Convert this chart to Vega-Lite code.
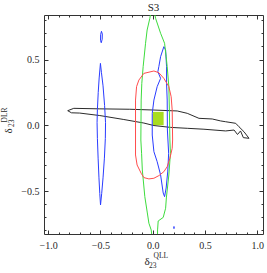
{
  "$schema": "https://vega.github.io/schema/vega-lite/v6.json",
  "autosize": "none",
  "padding": {"left": 44, "top": 15, "right": 4, "bottom": 39},
  "width": 219,
  "height": 219,
  "title": {"text": "S3", "font": "Liberation Serif, Times New Roman, serif", "fontSize": 11, "fontWeight": "normal", "color": "#222", "offset": 2},
  "config": {
    "view": {"stroke": "#333", "strokeWidth": 1},
    "axis": {
      "domain": false, "grid": false, "tickColor": "#333", "tickWidth": 1,
      "labelFont": "Liberation Serif, Times New Roman, serif", "labelFontSize": 10, "labelColor": "#2a2a2a",
      "labelFlush": false, "labelOverlap": false,
      "titleFont": "Liberation Serif, Times New Roman, serif", "titleFontWeight": "normal", "titleColor": "#2a2a2a"
    }
  },
  "datasets": {
    "box": [{"x1": 0.0, "x2": 0.105, "y1": 0.0, "y2": 0.102}],
    "contours": [
      {"c": "black", "s": "k", "i": 0, "x": -0.813, "y": 0.111},
      {"c": "black", "s": "k", "i": 1, "x": -0.755, "y": 0.129},
      {"c": "black", "s": "k", "i": 2, "x": -0.506, "y": 0.125},
      {"c": "black", "s": "k", "i": 3, "x": -0.219, "y": 0.122},
      {"c": "black", "s": "k", "i": 4, "x": 0.012, "y": 0.116},
      {"c": "black", "s": "k", "i": 5, "x": 0.235, "y": 0.109},
      {"c": "black", "s": "k", "i": 6, "x": 0.331, "y": 0.091},
      {"c": "black", "s": "k", "i": 7, "x": 0.443, "y": 0.053},
      {"c": "black", "s": "k", "i": 8, "x": 0.570, "y": 0.048},
      {"c": "black", "s": "k", "i": 9, "x": 0.651, "y": 0.033},
      {"c": "black", "s": "k", "i": 10, "x": 0.699, "y": 0.027},
      {"c": "black", "s": "k", "i": 11, "x": 0.795, "y": 0.015},
      {"c": "black", "s": "k", "i": 12, "x": 0.826, "y": -0.011},
      {"c": "black", "s": "k", "i": 13, "x": 0.874, "y": -0.049},
      {"c": "black", "s": "k", "i": 14, "x": 0.922, "y": -0.099},
      {"c": "black", "s": "k", "i": 15, "x": 0.868, "y": -0.094},
      {"c": "black", "s": "k", "i": 16, "x": 0.841, "y": -0.043},
      {"c": "black", "s": "k", "i": 17, "x": 0.812, "y": -0.070},
      {"c": "black", "s": "k", "i": 18, "x": 0.779, "y": -0.036},
      {"c": "black", "s": "k", "i": 19, "x": 0.699, "y": -0.043},
      {"c": "black", "s": "k", "i": 20, "x": 0.491, "y": -0.030},
      {"c": "black", "s": "k", "i": 21, "x": 0.331, "y": -0.023},
      {"c": "black", "s": "k", "i": 22, "x": 0.172, "y": -0.016},
      {"c": "black", "s": "k", "i": 23, "x": 0.012, "y": -0.002},
      {"c": "black", "s": "k", "i": 24, "x": -0.084, "y": 0.017},
      {"c": "black", "s": "k", "i": 25, "x": -0.276, "y": 0.044},
      {"c": "black", "s": "k", "i": 26, "x": -0.506, "y": 0.074},
      {"c": "black", "s": "k", "i": 27, "x": -0.698, "y": 0.093},
      {"c": "black", "s": "k", "i": 28, "x": -0.777, "y": 0.095},
      {"c": "black", "s": "k", "i": 29, "x": -0.813, "y": 0.111},

      {"c": "blue", "s": "b1", "i": 0, "x": -0.500, "y": 0.471},
      {"c": "blue", "s": "b1", "i": 1, "x": -0.490, "y": 0.400},
      {"c": "blue", "s": "b1", "i": 2, "x": -0.475, "y": 0.300},
      {"c": "blue", "s": "b1", "i": 3, "x": -0.460, "y": 0.150},
      {"c": "blue", "s": "b1", "i": 4, "x": -0.451, "y": 0.020},
      {"c": "blue", "s": "b1", "i": 5, "x": -0.453, "y": -0.100},
      {"c": "blue", "s": "b1", "i": 6, "x": -0.462, "y": -0.250},
      {"c": "blue", "s": "b1", "i": 7, "x": -0.475, "y": -0.400},
      {"c": "blue", "s": "b1", "i": 8, "x": -0.488, "y": -0.520},
      {"c": "blue", "s": "b1", "i": 9, "x": -0.499, "y": -0.606},
      {"c": "blue", "s": "b1", "i": 10, "x": -0.506, "y": -0.520},
      {"c": "blue", "s": "b1", "i": 11, "x": -0.514, "y": -0.400},
      {"c": "blue", "s": "b1", "i": 12, "x": -0.522, "y": -0.250},
      {"c": "blue", "s": "b1", "i": 13, "x": -0.529, "y": -0.100},
      {"c": "blue", "s": "b1", "i": 14, "x": -0.532, "y": 0.020},
      {"c": "blue", "s": "b1", "i": 15, "x": -0.529, "y": 0.120},
      {"c": "blue", "s": "b1", "i": 16, "x": -0.521, "y": 0.250},
      {"c": "blue", "s": "b1", "i": 17, "x": -0.512, "y": 0.360},
      {"c": "blue", "s": "b1", "i": 18, "x": -0.500, "y": 0.471},

      {"c": "blue", "s": "b2", "i": 0, "x": -0.490, "y": 0.715},
      {"c": "blue", "s": "b2", "i": 1, "x": -0.482, "y": 0.695},
      {"c": "blue", "s": "b2", "i": 2, "x": -0.483, "y": 0.655},
      {"c": "blue", "s": "b2", "i": 3, "x": -0.492, "y": 0.628},
      {"c": "blue", "s": "b2", "i": 4, "x": -0.499, "y": 0.645},
      {"c": "blue", "s": "b2", "i": 5, "x": -0.498, "y": 0.690},
      {"c": "blue", "s": "b2", "i": 6, "x": -0.490, "y": 0.715},

      {"c": "blue", "s": "b3", "i": 0, "x": 0.204, "y": -0.770},
      {"c": "blue", "s": "b3", "i": 1, "x": 0.208, "y": -0.778},
      {"c": "blue", "s": "b3", "i": 2, "x": 0.204, "y": -0.786},
      {"c": "blue", "s": "b3", "i": 3, "x": 0.200, "y": -0.778},
      {"c": "blue", "s": "b3", "i": 4, "x": 0.204, "y": -0.770},

      {"c": "blue", "s": "b4", "i": 0, "x": 0.107, "y": 0.598},
      {"c": "blue", "s": "b4", "i": 1, "x": 0.076, "y": 0.522},
      {"c": "blue", "s": "b4", "i": 2, "x": 0.059, "y": 0.446},
      {"c": "blue", "s": "b4", "i": 3, "x": 0.050, "y": 0.408},
      {"c": "blue", "s": "b4", "i": 4, "x": 0.076, "y": 0.357},
      {"c": "blue", "s": "b4", "i": 5, "x": 0.043, "y": 0.294},
      {"c": "blue", "s": "b4", "i": 6, "x": 0.012, "y": 0.192},
      {"c": "blue", "s": "b4", "i": 7, "x": -0.004, "y": 0.091},
      {"c": "blue", "s": "b4", "i": 8, "x": -0.004, "y": -0.074},
      {"c": "blue", "s": "b4", "i": 9, "x": 0.012, "y": -0.201},
      {"c": "blue", "s": "b4", "i": 10, "x": 0.043, "y": -0.277},
      {"c": "blue", "s": "b4", "i": 11, "x": 0.076, "y": -0.378},
      {"c": "blue", "s": "b4", "i": 12, "x": 0.101, "y": -0.515},
      {"c": "blue", "s": "b4", "i": 13, "x": 0.114, "y": -0.543},
      {"c": "blue", "s": "b4", "i": 14, "x": 0.129, "y": -0.477},
      {"c": "blue", "s": "b4", "i": 15, "x": 0.144, "y": -0.355},
      {"c": "blue", "s": "b4", "i": 16, "x": 0.153, "y": -0.213},
      {"c": "blue", "s": "b4", "i": 17, "x": 0.141, "y": -0.036},
      {"c": "blue", "s": "b4", "i": 18, "x": 0.139, "y": 0.192},
      {"c": "blue", "s": "b4", "i": 19, "x": 0.133, "y": 0.319},
      {"c": "blue", "s": "b4", "i": 20, "x": 0.133, "y": 0.446},
      {"c": "blue", "s": "b4", "i": 21, "x": 0.124, "y": 0.573},
      {"c": "blue", "s": "b4", "i": 22, "x": 0.107, "y": 0.598},

      {"c": "green", "s": "g", "i": 0, "x": -0.017, "y": 0.860},
      {"c": "green", "s": "g", "i": 1, "x": -0.027, "y": 0.814},
      {"c": "green", "s": "g", "i": 2, "x": -0.053, "y": 0.725},
      {"c": "green", "s": "g", "i": 3, "x": -0.068, "y": 0.624},
      {"c": "green", "s": "g", "i": 4, "x": -0.091, "y": 0.446},
      {"c": "green", "s": "g", "i": 5, "x": -0.104, "y": 0.319},
      {"c": "green", "s": "g", "i": 6, "x": -0.110, "y": 0.192},
      {"c": "green", "s": "g", "i": 7, "x": -0.113, "y": -0.112},
      {"c": "green", "s": "g", "i": 8, "x": -0.106, "y": -0.213},
      {"c": "green", "s": "g", "i": 9, "x": -0.099, "y": -0.340},
      {"c": "green", "s": "g", "i": 10, "x": -0.075, "y": -0.543},
      {"c": "green", "s": "g", "i": 11, "x": -0.051, "y": -0.667},
      {"c": "green", "s": "g", "i": 12, "x": -0.036, "y": -0.745},
      {"c": "green", "s": "g", "i": 13, "x": -0.014, "y": -0.796},
      {"c": "green", "s": "g", "i": 14, "x": -0.005, "y": -0.860},
      {"c": "green", "s": "g", "i": 15, "x": 0.046, "y": -0.860},
      {"c": "green", "s": "g", "i": 16, "x": 0.047, "y": -0.796},
      {"c": "green", "s": "g", "i": 17, "x": 0.053, "y": -0.728},
      {"c": "green", "s": "g", "i": 18, "x": 0.101, "y": -0.701},
      {"c": "green", "s": "g", "i": 19, "x": 0.124, "y": -0.631},
      {"c": "green", "s": "g", "i": 20, "x": 0.131, "y": -0.553},
      {"c": "green", "s": "g", "i": 21, "x": 0.155, "y": -0.378},
      {"c": "green", "s": "g", "i": 22, "x": 0.170, "y": -0.213},
      {"c": "green", "s": "g", "i": 23, "x": 0.165, "y": -0.112},
      {"c": "green", "s": "g", "i": 24, "x": 0.160, "y": 0.116},
      {"c": "green", "s": "g", "i": 25, "x": 0.155, "y": 0.294},
      {"c": "green", "s": "g", "i": 26, "x": 0.139, "y": 0.446},
      {"c": "green", "s": "g", "i": 27, "x": 0.129, "y": 0.522},
      {"c": "green", "s": "g", "i": 28, "x": 0.114, "y": 0.624},
      {"c": "green", "s": "g", "i": 29, "x": 0.076, "y": 0.700},
      {"c": "green", "s": "g", "i": 30, "x": 0.028, "y": 0.814},
      {"c": "green", "s": "g", "i": 31, "x": 0.016, "y": 0.860},

      {"c": "red", "s": "r", "i": 0, "x": 0.012, "y": 0.413},
      {"c": "red", "s": "r", "i": 1, "x": 0.059, "y": 0.400},
      {"c": "red", "s": "r", "i": 2, "x": 0.107, "y": 0.357},
      {"c": "red", "s": "r", "i": 3, "x": 0.155, "y": 0.294},
      {"c": "red", "s": "r", "i": 4, "x": 0.177, "y": 0.217},
      {"c": "red", "s": "r", "i": 5, "x": 0.187, "y": 0.116},
      {"c": "red", "s": "r", "i": 6, "x": 0.191, "y": -0.112},
      {"c": "red", "s": "r", "i": 7, "x": 0.187, "y": -0.175},
      {"c": "red", "s": "r", "i": 8, "x": 0.165, "y": -0.251},
      {"c": "red", "s": "r", "i": 9, "x": 0.139, "y": -0.315},
      {"c": "red", "s": "r", "i": 10, "x": 0.107, "y": -0.353},
      {"c": "red", "s": "r", "i": 11, "x": 0.059, "y": -0.383},
      {"c": "red", "s": "r", "i": 12, "x": 0.012, "y": -0.403},
      {"c": "red", "s": "r", "i": 13, "x": -0.036, "y": -0.408},
      {"c": "red", "s": "r", "i": 14, "x": -0.084, "y": -0.398},
      {"c": "red", "s": "r", "i": 15, "x": -0.110, "y": -0.365},
      {"c": "red", "s": "r", "i": 16, "x": -0.149, "y": -0.302},
      {"c": "red", "s": "r", "i": 17, "x": -0.164, "y": -0.226},
      {"c": "red", "s": "r", "i": 18, "x": -0.164, "y": 0.192},
      {"c": "red", "s": "r", "i": 19, "x": -0.154, "y": 0.294},
      {"c": "red", "s": "r", "i": 20, "x": -0.132, "y": 0.344},
      {"c": "red", "s": "r", "i": 21, "x": -0.084, "y": 0.395},
      {"c": "red", "s": "r", "i": 22, "x": 0.012, "y": 0.413}
    ]
  },
  "resolve": {"axis": {"x": "independent", "y": "independent"}},
  "layer": [
    {
      "data": {"name": "box"},
      "mark": {"type": "rect", "color": "#a8dc20"},
      "encoding": {
        "x": {"field": "x1", "type": "quantitative",
          "scale": {"domain": [-1.04, 1.056], "nice": false, "zero": false},
          "axis": {"orient": "bottom", "values": [-1, -0.5, 0, 0.5, 1], "format": ".1f",
            "tickSize": -4, "labelPadding": 10,
            "title": "δ", "titleFontSize": 11, "titleX": 100, "titleY": 30,
            "titleAlign": "left", "titleBaseline": "alphabetic", "titleAngle": 0}},
        "x2": {"field": "x2"},
        "y": {"field": "y1", "type": "quantitative",
          "scale": {"domain": [-0.827, 0.839], "nice": false, "zero": false},
          "axis": {"orient": "left", "values": [-0.5, 0, 0.5], "format": ".1f",
            "tickSize": -4, "labelPadding": 9,
            "title": "δ", "titleFontSize": 11, "titleX": -33, "titleY": 118,
            "titleAlign": "left", "titleBaseline": "alphabetic", "titleAngle": 270}},
        "y2": {"field": "y2"}
      }
    },
    {
      "data": {"name": "contours"},
      "transform": [{"filter": "datum.c === 'black'"}],
      "mark": {"type": "line", "color": "#2b2b2b", "strokeWidth": 1, "clip": true},
      "encoding": {
        "x": {"field": "x", "type": "quantitative",
          "scale": {"domain": [-1.04, 1.056], "nice": false, "zero": false},
          "axis": {"orient": "bottom",
            "values": [-1, -0.9, -0.8, -0.7, -0.6, -0.5, -0.4, -0.3, -0.2, -0.1, 0, 0.1, 0.2, 0.3, 0.4, 0.5, 0.6, 0.7, 0.8, 0.9, 1],
            "tickSize": -2, "labels": false,
            "title": "23", "titleFontSize": 7.5, "titleX": 104.5, "titleY": 33,
            "titleAlign": "left", "titleBaseline": "alphabetic", "titleAngle": 0}},
        "y": {"field": "y", "type": "quantitative",
          "scale": {"domain": [-0.827, 0.839], "nice": false, "zero": false},
          "axis": {"orient": "left",
            "values": [-0.8, -0.7, -0.6, -0.5, -0.4, -0.3, -0.2, -0.1, 0, 0.1, 0.2, 0.3, 0.4, 0.5, 0.6, 0.7, 0.8],
            "tickSize": -2, "labels": false,
            "title": "23", "titleFontSize": 7.5, "titleX": -31, "titleY": 111.5,
            "titleAlign": "left", "titleBaseline": "alphabetic", "titleAngle": 270}},
        "detail": {"field": "s"},
        "order": {"field": "i", "type": "quantitative"}
      }
    },
    {
      "data": {"name": "contours"},
      "transform": [{"filter": "datum.c === 'blue'"}],
      "mark": {"type": "line", "color": "#2a3cff", "strokeWidth": 1, "clip": true},
      "encoding": {
        "x": {"field": "x", "type": "quantitative",
          "scale": {"domain": [-1.04, 1.056], "nice": false, "zero": false},
          "axis": {"orient": "top", "values": [-1, -0.5, 0, 0.5, 1],
            "tickSize": -4, "labels": false,
            "title": "QLL", "titleFontSize": 7.5, "titleX": 109, "titleY": 242.5,
            "titleAlign": "left", "titleBaseline": "alphabetic", "titleAngle": 0}},
        "y": {"field": "y", "type": "quantitative",
          "scale": {"domain": [-0.827, 0.839], "nice": false, "zero": false},
          "axis": {"orient": "right", "values": [-0.5, 0, 0.5],
            "tickSize": -4, "labels": false,
            "title": "DLR", "titleFontSize": 7.5, "titleX": -257, "titleY": 107,
            "titleAlign": "left", "titleBaseline": "alphabetic", "titleAngle": 270}},
        "detail": {"field": "s"},
        "order": {"field": "i", "type": "quantitative"}
      }
    },
    {
      "data": {"name": "contours"},
      "transform": [{"filter": "datum.c === 'green' || datum.c === 'red'"}],
      "mark": {"type": "line", "strokeWidth": 1, "clip": true},
      "encoding": {
        "x": {"field": "x", "type": "quantitative",
          "scale": {"domain": [-1.04, 1.056], "nice": false, "zero": false},
          "axis": {"orient": "top",
            "values": [-1, -0.9, -0.8, -0.7, -0.6, -0.5, -0.4, -0.3, -0.2, -0.1, 0, 0.1, 0.2, 0.3, 0.4, 0.5, 0.6, 0.7, 0.8, 0.9, 1],
            "tickSize": -2, "labels": false, "title": null}},
        "y": {"field": "y", "type": "quantitative",
          "scale": {"domain": [-0.827, 0.839], "nice": false, "zero": false},
          "axis": {"orient": "right",
            "values": [-0.8, -0.7, -0.6, -0.5, -0.4, -0.3, -0.2, -0.1, 0, 0.1, 0.2, 0.3, 0.4, 0.5, 0.6, 0.7, 0.8],
            "tickSize": -2, "labels": false, "title": null}},
        "color": {"field": "c", "type": "nominal",
          "scale": {"domain": ["green", "red"], "range": ["#3ddc3d", "#ff4d4d"]}, "legend": null},
        "detail": {"field": "s"},
        "order": {"field": "i", "type": "quantitative"}
      }
    }
  ]
}
